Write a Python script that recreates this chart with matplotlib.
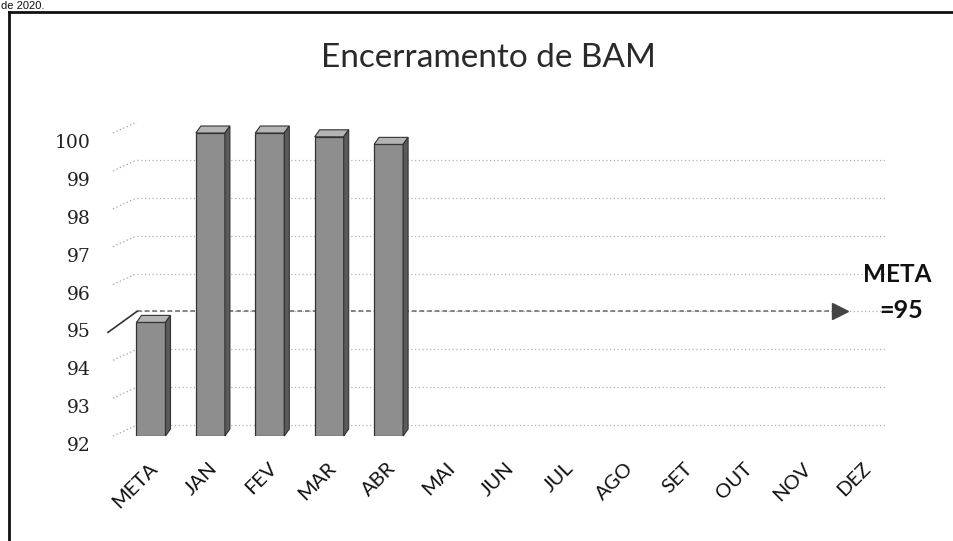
import matplotlib
matplotlib.use("Agg")
import matplotlib.pyplot as plt
from matplotlib.transforms import ScaledTranslation
from matplotlib.lines import Line2D
from matplotlib.patches import Polygon

# ---- data ----
categories = ["META", "JAN", "FEV", "MAR", "ABR", "MAI", "JUN", "JUL",
              "AGO", "SET", "OUT", "NOV", "DEZ"]
values = [95, 100, 100, 99.9, 99.7]          # bars present (META..ABR)
y_ticks = [92, 93, 94, 95, 96, 97, 98, 99, 100]
meta_value = 95
title = "Encerramento de BAM"

# ---- layout ----
W, H = 954, 541
DPI = 100
fig = plt.figure(figsize=(W / DPI, H / DPI), dpi=DPI)

def fy(py):
    return 1 - py / H

ax_left, ax_right, ax_top, ax_bot = 113, 886, 133, 436
ax = fig.add_axes([ax_left / W, (H - ax_bot) / H, (ax_right - ax_left) / W, (ax_bot - ax_top) / H])
slot = 59.4
first_center = 151
ax.set_xlim(-(first_center - ax_left) / slot, (ax_right - first_center) / slot)
ax.set_ylim(92, 100)
ax.patch.set_visible(False)
for s in ax.spines.values():
    s.set_visible(False)

# back wall offset (3D look)
back = ax.transData + ScaledTranslation(24 / DPI, 11 / DPI, fig.dpi_scale_trans)
xl0, xl1 = ax.get_xlim()

# gridlines on back wall + perspective stubs
to_fig = fig.transFigure.inverted()
for v in y_ticks:
    ax.plot([xl0, xl1], [v, v], transform=back, color="#b0b0b0", lw=0.9,
            ls=(0, (1, 2)), zorder=1)
    if v != meta_value:
        p0 = to_fig.transform(ax.transData.transform((xl0, v)))
        p1 = to_fig.transform(back.transform((xl0, v)))
        fig.add_artist(Line2D([p0[0], p1[0]], [p0[1], p1[1]], color="#a0a0a0",
                              lw=0.9, ls=(0, (1, 2)), transform=fig.transFigure))

# META target line
p0 = to_fig.transform(ax.transData.transform((xl0, meta_value)) + [-5, -10])
p1 = to_fig.transform(back.transform((xl0, meta_value)))
fig.add_artist(Line2D([p0[0], p1[0]], [p0[1], p1[1]], color="#333333", lw=1.2,
                      transform=fig.transFigure))
arrow_end = 11.2
ax.plot([xl0, arrow_end], [meta_value, meta_value], transform=back, color="#666666",
        lw=1.1, ls=(0, (3, 2)), zorder=2)
ax.plot([arrow_end], [meta_value], transform=back, marker=">", ms=11,
        color="#444444", zorder=3)

# bars with 3D faces
bw = 29 / slot
dx, dy = 5, 7  # pixel depth of bar
xs = list(range(len(values)))
ax.bar(xs, [v - 92 for v in values], bottom=92, width=bw, color="#8e8e8e",
       edgecolor="#333333", lw=0.9, zorder=4)
for x, v in zip(xs, values):
    tl = ax.transData.transform((x - bw / 2, v))
    tr = ax.transData.transform((x + bw / 2, v))
    br = ax.transData.transform((x + bw / 2, 92))
    d = [dx, dy]
    top = [tl, tr, tr + d, tl + d]
    side = [tr, tr + d, br + d, br]
    for pts, col in ((top, "#b4b4b4"), (side, "#5a5a5a")):
        fig.add_artist(Polygon([to_fig.transform(p) for p in pts], closed=True,
                               facecolor=col, edgecolor="#333333", lw=0.8,
                               transform=fig.transFigure, zorder=5))

# ticks
ax.set_yticks(y_ticks)
ax.set_yticklabels([str(t) for t in y_ticks], fontsize=13.5, family="DejaVu Serif",
                   color="#222222")
ax.tick_params(axis="y", length=0, pad=16)
for lab in ax.get_yticklabels():
    lab.set_transform(lab.get_transform() + ScaledTranslation(0, -8 / DPI, fig.dpi_scale_trans))

ax.set_xticks(range(len(categories)))
ax.set_xticklabels(categories, rotation=45, ha="right", rotation_mode="anchor",
                   fontsize=14.5, family="Lato", color="#111111")
ax.tick_params(axis="x", length=0, pad=17)
for lab in ax.get_xticklabels():
    lab.set_transform(lab.get_transform() + ScaledTranslation(-2 / DPI, 0, fig.dpi_scale_trans))

# title
fig.text(488 / W, fy(58), title, ha="center", va="center", fontsize=24,
         family="Lato", fontweight="normal", color="#2a2a2a")

# META label
fig.text(897 / W, fy(274), "META", ha="center", va="center", fontsize=17.5,
         family="Lato", fontweight="bold", color="#111111")
fig.text(901 / W, fy(310), "=95", ha="center", va="center", fontsize=18,
         family="Lato", fontweight="bold", color="#111111")

# frame of the scanned page
fig.add_artist(Line2D([9 / W, 1], [fy(12), fy(12)], color="#111111", lw=2,
                      transform=fig.transFigure))
fig.add_artist(Line2D([9 / W, 9 / W], [fy(12), 0], color="#111111", lw=2,
                      transform=fig.transFigure))
fig.text(1 / W, fy(1), "de 2020.", ha="left", va="top", fontsize=8,
         family="Liberation Sans", color="#111111")

fig.savefig("out.png", dpi=DPI)
